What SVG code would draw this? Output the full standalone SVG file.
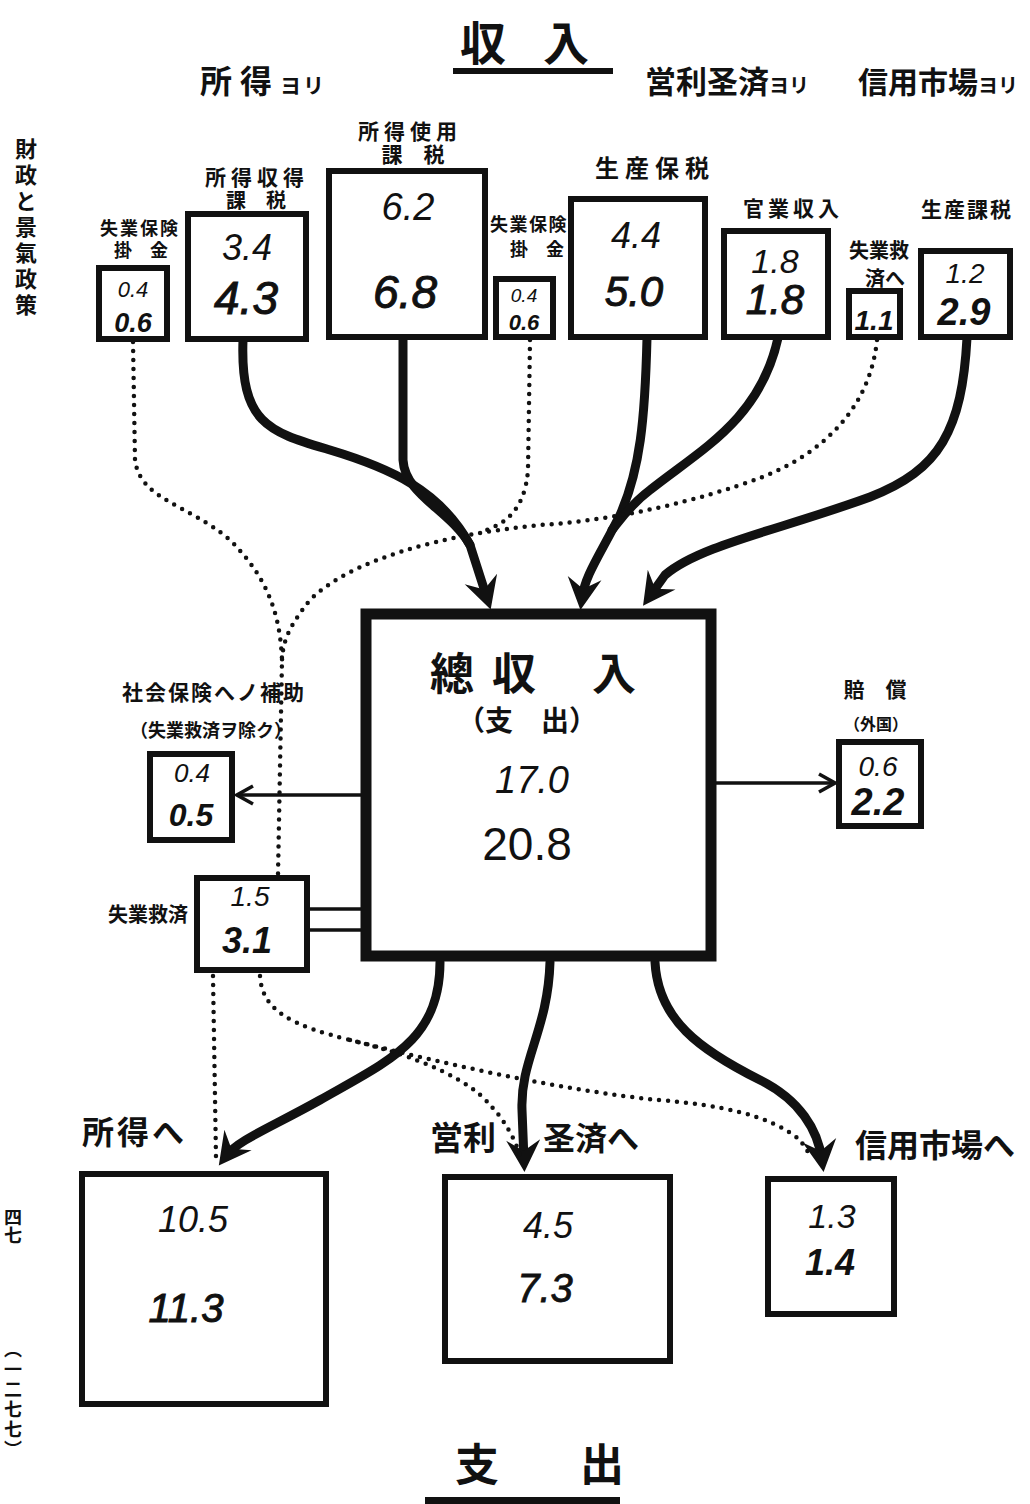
<svg xmlns="http://www.w3.org/2000/svg" width="1030" height="1504" viewBox="0 0 1030 1504">
<defs>
<style>
.jp{font-family:"Noto Sans CJK JP","Noto Sans CJK SC",sans-serif;fill:#111;font-weight:700}
.box{fill:#fff;stroke:#111;stroke-width:6}
.n1{font-family:"Liberation Sans",Arial,sans-serif;font-style:italic;fill:#111;text-anchor:middle}
.n2{font-family:"Liberation Sans",Arial,sans-serif;font-style:italic;font-weight:700;fill:#111;text-anchor:middle}
.thick{fill:none;stroke:#111;stroke-width:9;stroke-linecap:round;stroke-linejoin:round}
.dot{fill:none;stroke:#111;stroke-width:4.5;stroke-linecap:round;stroke-dasharray:0 9}
.thin{fill:none;stroke:#111;stroke-width:3.5}
.c{text-anchor:middle}
.vt{writing-mode:vertical-rl;text-orientation:mixed}
</style>
<marker id="barb" viewBox="-34 -19 36 38" refX="-12" refY="0" markerWidth="36" markerHeight="38" markerUnits="userSpaceOnUse" orient="auto">
<path d="M0,0 L-32,-17 L-21,0 L-32,17 Z" fill="#111"/>
</marker>
<marker id="chev" viewBox="-18 -11 20 22" refX="0" refY="0" markerWidth="20" markerHeight="22" markerUnits="userSpaceOnUse" orient="auto">
<path d="M-16,-9 L0,0 L-16,9" fill="none" stroke="#111" stroke-width="3.5"/>
</marker>
</defs>
<rect width="1030" height="1504" fill="#fff"/>

<g id="headers">
<text class="jp" y="60" font-size="46" font-weight="400"><tspan x="460">収</tspan><tspan x="543">入</tspan></text>
<rect x="453" y="68" width="160" height="6" fill="#111"/>
<text class="jp" x="200" y="93" font-size="32" letter-spacing="8">所得<tspan font-size="21" letter-spacing="2">ヨリ</tspan></text>
<text class="jp" x="645" y="93" font-size="31">営利圣済<tspan font-size="20">ヨリ</tspan></text>
<text class="jp" x="858" y="93" font-size="30">信用市場<tspan font-size="20">ヨリ</tspan></text>
<text class="jp" y="1481" font-size="44" font-weight="400"><tspan x="455">支</tspan><tspan x="580">出</tspan></text>
<rect x="425" y="1497" width="195" height="7" fill="#111"/>
</g>

<g id="margin">
<text class="jp vt" x="26" y="138" font-size="22" letter-spacing="4">財政と景氣政策</text>
<text class="jp vt" x="13" y="1208" font-size="18">四七</text>
<text class="jp vt" x="13" y="1340" font-size="18" letter-spacing="2">（一二七七）</text>
</g>

<g id="connectors">
<path class="thick" d="M243,340 C240,425 270,432 330,450 C390,468 440,490 470,545 L487,598" marker-end="url(#barb)"/>
<path class="thick" d="M403,338 L403,460 C405,495 450,510 470,545"/>
<path class="thick" d="M647,338 C645,420 640,470 620,515 C600,555 585,575 582,598" marker-end="url(#barb)"/>
<path class="thick" d="M778,338 C760,420 700,450 650,490 C630,505 620,520 612,530"/>
<path class="thick" d="M967,338 C962,430 940,470 870,497 C780,530 700,545 665,575 L650,596" marker-end="url(#barb)"/>
<path class="thick" d="M440,962 C440,1040 390,1060 320,1100 C270,1128 238,1140 226,1156" marker-end="url(#barb)"/>
<path class="thick" d="M550,962 C548,1030 520,1060 522,1110 L524,1160" marker-end="url(#barb)"/>
<path class="thick" d="M655,962 C658,1020 700,1050 760,1080 C800,1100 818,1130 822,1160" marker-end="url(#barb)"/>
<path class="dot" d="M133,342 L135,460 C140,500 190,505 230,540 C265,575 280,610 282,660 L278,875"/>
<path class="dot" d="M530,340 L528,470 C525,510 505,525 480,532"/>
<path class="dot" d="M877,340 C870,410 820,455 760,478 C700,500 620,520 540,525 C440,535 350,560 310,600 C290,625 283,640 282,660"/>
<path class="dot" d="M213,976 L216,1158"/>
<path class="dot" d="M260,976 C262,1010 290,1025 350,1040 C420,1057 470,1080 490,1105 C505,1120 515,1140 520,1155"/>
<path class="dot" d="M350,1040 C450,1065 560,1090 658,1100 C720,1105 770,1115 800,1140 L812,1158"/>
<line class="thin" x1="362" y1="795" x2="237" y2="795" marker-end="url(#chev)"/>
<line class="thin" x1="715" y1="783" x2="835" y2="783" marker-end="url(#chev)"/>
<line class="thin" x1="308" y1="909" x2="364" y2="909"/>
<line class="thin" x1="308" y1="930" x2="364" y2="930"/>
</g>

<g id="n-shitsugyo1">
<text class="jp c" x="140" y="235" font-size="18" letter-spacing="2">失業保険</text>
<text class="jp c" x="141" y="257" font-size="18">掛　金</text>
<rect class="box" x="99" y="268" width="68" height="71"/>
<text class="n1" x="133" y="297" font-size="22">0.4</text>
<text class="n2" x="133" y="332" font-size="27">0.6</text>
</g>

<g id="n-shotokushutoku">
<text class="jp c" x="257" y="185" font-size="21" letter-spacing="5">所得収得</text>
<text class="jp c" x="256" y="208" font-size="20">課　税</text>
<rect class="box" x="188" y="214" width="118" height="125"/>
<text class="n1" x="247" y="260" font-size="36">3.4</text>
<text class="n1" x="246" y="314" font-size="46" stroke="#111" stroke-width="1">4.3</text>
</g>

<g id="n-shotokushiyo">
<text class="jp c" x="410" y="139" font-size="21" letter-spacing="5">所得使用</text>
<text class="jp c" x="413" y="162" font-size="21">課　税</text>
<rect class="box" x="329" y="171" width="156" height="166"/>
<text class="n1" x="408" y="220" font-size="38">6.2</text>
<text class="n1" x="405" y="308" font-size="46" stroke="#111" stroke-width="1">6.8</text>
</g>

<g id="n-shitsugyo2">
<text class="jp c" x="529" y="231" font-size="18" letter-spacing="1.5">失業保険</text>
<text class="jp c" x="537" y="256" font-size="18">掛　金</text>
<rect class="box" x="496" y="279" width="57" height="58"/>
<text class="n1" x="524" y="302" font-size="19">0.4</text>
<text class="n2" x="524" y="330" font-size="22">0.6</text>
</g>

<g id="n-seisanhozei">
<text class="jp c" x="655" y="177" font-size="24" letter-spacing="6">生産保税</text>
<rect class="box" x="571" y="199" width="134" height="138"/>
<text class="n1" x="636" y="248" font-size="36">4.4</text>
<text class="n1" x="634" y="306" font-size="42" stroke="#111" stroke-width="1">5.0</text>
</g>

<g id="n-kangyo">
<text class="jp c" x="793" y="216" font-size="21" letter-spacing="4">官業収入</text>
<rect class="box" x="724" y="231" width="104" height="106"/>
<text class="n1" x="775" y="273" font-size="34">1.8</text>
<text class="n1" x="775" y="314" font-size="42" stroke="#111" stroke-width="1">1.8</text>
</g>

<g id="n-kyusaihe">
<text class="jp c" x="879" y="258" font-size="20">失業救</text>
<text class="jp c" x="885" y="286" font-size="20">済へ</text>
<rect class="box" x="849" y="291" width="51" height="46"/>
<text class="n2" x="874" y="330" font-size="28">1.1</text>
</g>

<g id="n-seisankazei">
<text class="jp c" x="967" y="217" font-size="21" letter-spacing="2">生産課税</text>
<rect class="box" x="921" y="251" width="89" height="86"/>
<text class="n1" x="965" y="283" font-size="28">1.2</text>
<text class="n2" x="964" y="325" font-size="38">2.9</text>
</g>

<g id="n-sou">
<rect x="366" y="614" width="345" height="342" fill="#fff" stroke="#111" stroke-width="11"/>
<text class="jp" y="690" font-size="44"><tspan x="430">總</tspan><tspan x="492">収</tspan><tspan x="592">入</tspan></text>
<text class="jp c" x="527" y="731" font-size="28">（支　出）</text>
<text class="n1" x="532" y="793" font-size="38" font-weight="300">17.0</text>
<text x="527" y="860" font-size="46" text-anchor="middle" font-family="Liberation Sans,Arial,sans-serif" fill="#111">20.8</text>
</g>

<g id="n-shakaihoken">
<text class="jp" x="122" y="700" font-size="21" letter-spacing="2">社会保険へノ補助</text>
<text class="jp" x="130" y="737" font-size="18">（失業救済ヲ除ク）</text>
<rect class="box" x="150" y="754" width="82" height="86"/>
<text class="n1" x="192" y="782" font-size="26">0.4</text>
<text class="n2" x="191" y="826" font-size="32">0.5</text>
</g>

<g id="n-kyusai">
<text class="jp" x="108" y="922" font-size="20">失業救済</text>
<rect class="box" x="197" y="878" width="110" height="92"/>
<text class="n1" x="250" y="906" font-size="28">1.5</text>
<text class="n2" x="247" y="953" font-size="36">3.1</text>
</g>

<g id="n-baisho">
<text class="jp c" x="875" y="697" font-size="21">賠　償</text>
<text class="jp c" x="876" y="730" font-size="16">（外国）</text>
<rect class="box" x="839" y="742" width="82" height="84"/>
<text class="n1" x="878" y="776" font-size="28">0.6</text>
<text class="n2" x="878" y="815" font-size="38">2.2</text>
</g>

<g id="n-shotokuhe">
<text class="jp" x="82" y="1144" font-size="32" letter-spacing="3">所得へ</text>
<rect class="box" x="82" y="1174" width="244" height="230" stroke-width="5"/>
<text class="n1" x="193" y="1232" font-size="36">10.5</text>
<text class="n1" x="186" y="1322" font-size="40" stroke="#111" stroke-width="1">11.3</text>
</g>

<g id="n-eirihe">
<text class="jp" x="430" y="1150" font-size="33">営利</text>
<text class="jp" x="543" y="1150" font-size="32">圣済へ</text>
<rect class="box" x="445" y="1177" width="225" height="184" stroke-width="5"/>
<text class="n1" x="548" y="1238" font-size="36">4.5</text>
<text class="n1" x="545" y="1302" font-size="40" stroke="#111" stroke-width="0.8">7.3</text>
</g>

<g id="n-shinyohe">
<text class="jp" x="855" y="1157" font-size="32">信用市場へ</text>
<rect class="box" x="768" y="1179" width="126" height="135" stroke-width="5"/>
<text class="n1" x="832" y="1228" font-size="34">1.3</text>
<text class="n2" x="830" y="1275" font-size="36">1.4</text>
</g>
</svg>
